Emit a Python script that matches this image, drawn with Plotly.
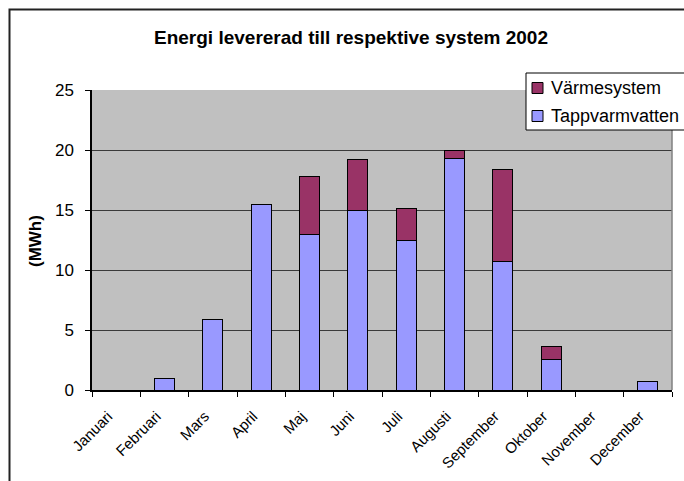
import plotly.graph_objects as go

# Monthly delivered energy (MWh), 2002
months = ["Januari", "Februari", "Mars", "April", "Maj", "Juni", "Juli",
          "Augusti", "September", "Oktober", "November", "December"]
tappvarmvatten = [0, 1.0, 5.9, 15.5, 13.0, 15.0, 12.5, 19.3, 10.7, 2.55, 0, 0.7]
varmesystem = [0, 0, 0, 0, 4.8, 4.2, 2.6, 0.7, 7.7, 1.05, 0, 0]
series_names = ["Tappvarmvatten", "Värmesystem"]
y_ticks = [0, 5, 10, 15, 20, 25]

title_text = "Energi levererad till respektive system 2002"
y_title = "(MWh)"

FONT = "Liberation Sans, Arial, sans-serif"
BLUE = "#9999FF"
MAROON = "#993366"

W, H = 684, 481
L, R, T, B = 92, 12, 90, 91
PW, PH = W - L - R, H - T - B


def px(x):
    return (x - L) / PW


def py(y):
    return (H - B - y) / PH


fig = go.Figure()
fig.add_trace(go.Bar(x=months, y=tappvarmvatten, name=series_names[0],
                     marker=dict(color=BLUE, line=dict(color="black", width=1)),
                     width=0.42, showlegend=False))
fig.add_trace(go.Bar(x=months, y=varmesystem, name=series_names[1],
                     marker=dict(color=MAROON, line=dict(color="black", width=1)),
                     width=0.42, showlegend=False))

shapes = [
    # outer chart frame
    dict(type="rect", xref="paper", yref="paper",
         x0=px(9.5), x1=px(720), y0=py(520), y1=py(9.5),
         line=dict(color="#222222", width=2), fillcolor="rgba(0,0,0,0)", layer="above"),
    # right edge of the plot area
    dict(type="line", xref="paper", yref="paper", x0=1, x1=1, y0=0, y1=1,
         line=dict(color="#808080", width=1.5)),
    # legend box
    dict(type="rect", xref="paper", yref="paper",
         x0=px(526), x1=px(720), y0=py(130), y1=py(73),
         line=dict(color="black", width=1), fillcolor="white", layer="above"),
]

annotations = [
    dict(text=y_title, xref="paper", yref="paper", x=px(35), y=py(241),
         xanchor="center", yanchor="middle",
         showarrow=False, textangle=-90,
         font=dict(family=FONT, size=17, color="black", weight="bold")),
]

# legend entries (top: Värmesystem, bottom: Tappvarmvatten)
legend_items = [(series_names[1], MAROON, 88), (series_names[0], BLUE, 116)]
for name, color, cy in legend_items:
    shapes.append(dict(type="rect", xref="paper", yref="paper",
                       x0=px(532), x1=px(543), y0=py(cy + 5.5), y1=py(cy - 5.5),
                       line=dict(color="black", width=1), fillcolor=color, layer="above"))
    annotations.append(dict(text=name, xref="paper", yref="paper",
                            x=px(549), y=py(cy), xanchor="left", yanchor="middle",
                            showarrow=False,
                            font=dict(family=FONT, size=18, color="black")))

fig.update_layout(
    width=W, height=H,
    margin=dict(l=L, r=R, t=T, b=B),
    paper_bgcolor="white",
    plot_bgcolor="#C0C0C0",
    barmode="stack",
    bargap=0.58,
    title=dict(text=title_text, x=351 / W, xref="container", xanchor="center",
               y=1 - 37 / H, yref="container", yanchor="middle",
               font=dict(family=FONT, size=19, color="black", weight="bold")),
    font=dict(family=FONT, color="black"),
    shapes=shapes,
    annotations=annotations,
    xaxis=dict(
        type="category", range=[-0.5, 11.5], automargin=False,
        showline=True, linecolor="black", linewidth=1.5,
        ticks="outside", ticklen=5, tickcolor="black", tickwidth=1,
        tickson="boundaries", tickangle=-45,
        ticklabelstandoff=10, ticklabelshift=-8,
        tickfont=dict(family=FONT, size=15, color="black"),
        showgrid=False, zeroline=False,
    ),
    yaxis=dict(
        range=[0, 25], tickvals=y_ticks, automargin=False,
        showline=True, linecolor="black", linewidth=1.5,
        ticks="outside", ticklen=5, tickcolor="black", tickwidth=1,
        ticklabelstandoff=8,
        tickfont=dict(family=FONT, size=17, color="black"),
        showgrid=True, gridcolor="#3A3A3A", gridwidth=1,
        zeroline=False,
    ),
)

fig.write_html("out.html")
